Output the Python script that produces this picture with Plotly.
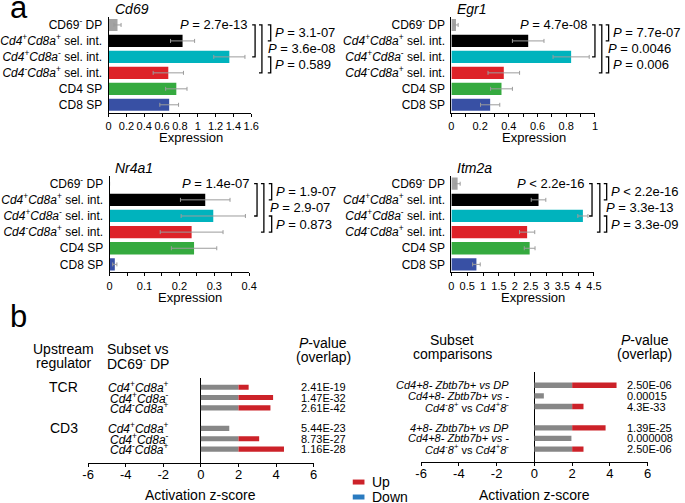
import plotly.graph_objects as go

W, H = 685, 503
FONT = "Liberation Sans, Arial, sans-serif"

# ---------------- data: panel a ----------------
subsets = [
    "CD69<sup>-</sup> DP",
    "<i>Cd4</i><sup>+</sup><i>Cd8a</i><sup>+</sup> sel. int.",
    "<i>Cd4</i><sup>+</sup><i>Cd8a</i><sup>-</sup> sel. int.",
    "<i>Cd4</i><sup>-</sup><i>Cd8a</i><sup>+</sup> sel. int.",
    "CD4 SP",
    "CD8 SP",
]
subset_colors = ["#a3a3a3", "#000000", "#00b3bd", "#dd2228", "#35aa3f", "#3850a4"]

genes = ["Cd69", "Egr1", "Nr4a1", "Itm2a"]

cd69_expr = [0.10, 0.83, 1.355, 0.67, 0.76, 0.68]
cd69_err = [0.04, 0.135, 0.175, 0.17, 0.12, 0.105]
egr1_expr = [0.032, 0.535, 0.834, 0.365, 0.349, 0.27]
egr1_err = [0.015, 0.11, 0.126, 0.11, 0.076, 0.067]
nr4a1_expr = [0.0, 0.274, 0.297, 0.235, 0.242, 0.015]
nr4a1_err = [0.0, 0.071, 0.092, 0.09, 0.065, 0.006]
itm2a_expr = [0.196, 2.75, 4.15, 2.39, 2.47, 0.79]
itm2a_err = [0.08, 0.23, 0.16, 0.24, 0.17, 0.12]

expr_ranges = [1.6, 1.0, 0.4, 4.5]
expr_dticks = [0.2, 0.2, 0.1, 0.5]

# P-value comparisons (pairs of subset indices)
p_pairs = [(0, 2), (0, 3), (0, 1), (2, 3)]
cd69_p = ["= 2.7e-13", "= 3.6e-08", "= 3.1-07", "= 0.589"]
egr1_p = ["= 4.7e-08", "= 0.0046", "= 7.7e-07", "= 0.006"]
nr4a1_p = ["= 1.4e-07", "= 2.9-07", "= 1.9-07", "= 0.873"]
itm2a_p = ["< 2.2e-16", "= 3.3e-13", "< 2.2e-16", "= 3.3e-09"]

# ---------------- data: panel b ----------------
regulators = ["TCR", "CD3"]
b_rows = [0, 1, 2, 4, 5, 6]
left_labels = [
    "<i>Cd4</i><sup>+</sup><i>Cd8a</i><sup>+</sup>",
    "<i>Cd4</i><sup>+</sup><i>Cd8a</i><sup>-</sup>",
    "<i>Cd4</i><sup>-</sup><i>Cd8a</i><sup>+</sup>",
    "<i>Cd4</i><sup>+</sup><i>Cd8a</i><sup>+</sup>",
    "<i>Cd4</i><sup>+</sup><i>Cd8a</i><sup>-</sup>",
    "<i>Cd4</i><sup>-</sup><i>Cd8a</i><sup>+</sup>",
]
left_z = [2.54, 3.84, 3.70, 1.51, 3.10, 4.42]
left_p = ["2.41E-19", "1.47E-32", "2.61E-42", "5.44E-23", "8.73E-27", "1.16E-28"]

right_labels = [
    "<i>Cd4+8- Zbtb7b+ vs DP</i>",
    "<i>Cd4+8- Zbtb7b+ vs -</i>",
    "<i>Cd4</i><sup>-</sup><i>8</i><sup>+</sup> vs <i>Cd4</i><sup>+</sup><i>8</i><sup>-</sup>",
    "<i>4+8- Zbtb7b+ vs DP</i>",
    "<i>Cd4+8- Zbtb7b+ vs -</i>",
    "<i>Cd4</i><sup>-</sup><i>8</i><sup>+</sup> vs <i>Cd4</i><sup>+</sup><i>8</i><sup>-</sup>",
]
right_z = [4.35, 0.50, 2.60, 3.77, 1.96, 2.60]
right_p = ["2.50E-06", "0.00015", "4.3E-33", "1.39E-25", "0.000008", "2.50E-06"]

z_threshold = 2.0
z_ticks = [-6, -4, -2, 0, 2, 4, 6]
z_ticktext = ["-6", "-4", "-2", "0", "2", "4", "6"]

GRAY_B = "#878787"
RED_B = "#cc2229"
BLUE_B = "#2a7bc0"


def fx(p):
    return p / W


def fy(p):
    return 1 - p / H


fig = go.Figure()
annotations = []
shapes = []

# ---------------- panel a layout (pixel boxes) ----------------
a_boxes = [  # x0, x1, ytop, ybottom
    (103, 249, 16, 112),
    (454, 601, 16, 112),
    (104, 247, 175, 272),
    (454, 600, 175, 272),
]
bracket_x = [
    [253, 260, 269, 269],
    [601, 608, 615, 615],
    [255, 262, 270, 270],
    [598, 606, 613, 613],
]
expr_all = [cd69_expr, egr1_expr, nr4a1_expr, itm2a_expr]
err_all = [cd69_err, egr1_err, nr4a1_err, itm2a_err]
p_all = [cd69_p, egr1_p, nr4a1_p, itm2a_p]
minor_d = [None, 0.1, 0.05, None]

layout_axes = {}
for i in range(4):
    n = i + 1
    xa = "x" if n == 1 else f"x{n}"
    ya = "y" if n == 1 else f"y{n}"
    x0, x1, yt, yb = a_boxes[i]
    fig.add_trace(go.Bar(
        x=expr_all[i], y=list(range(len(subsets))), orientation="h",
        marker=dict(color=subset_colors, line=dict(width=0)), width=0.76,
        error_x=dict(type="data", array=err_all[i], color="#9c9c9c", thickness=1, width=2),
        xaxis=xa, yaxis=ya, showlegend=False, hoverinfo="skip",
    ))
    xkey = "xaxis" if n == 1 else f"xaxis{n}"
    ykey = "yaxis" if n == 1 else f"yaxis{n}"
    d = expr_dticks[i]
    nt = int(round(expr_ranges[i] / d))
    tv = [round(k * d, 3) for k in range(nt + 1)]
    xdict = dict(
        domain=[fx(x0), fx(x1)], anchor=ya, range=[0, expr_ranges[i]],
        tickvals=tv, ticktext=[("%g" % v) for v in tv],
        showline=True, linecolor="black", linewidth=1, ticks="outside", ticklen=3,
        tickcolor="black", tickwidth=1, tickfont=dict(size=11, color="black"),
        showgrid=False, zeroline=False, fixedrange=True,
    )
    if minor_d[i]:
        xdict["minor"] = dict(dtick=minor_d[i], ticks="outside", ticklen=3, tickcolor="black", showgrid=False)
    layout_axes[xkey] = xdict
    layout_axes[ykey] = dict(
        domain=[fy(yb), fy(yt)], anchor=xa, range=[5.5, -0.5],
        tickvals=list(range(len(subsets))), ticktext=subsets,
        showline=True, linecolor="black", linewidth=1, ticks="",
        ticklabelstandoff=3, tickfont=dict(size=12, color="black"),
        showgrid=False, zeroline=False, fixedrange=True,
    )
    annotations.append(dict(
        text=f"<i>{genes[i]}</i>", x=fx(x0 + 4), y=fy(yt - 8), xref="paper", yref="paper",
        xanchor="left", yanchor="middle", showarrow=False, font=dict(size=14, color="black"),
    ))
    annotations.append(dict(
        text="Expression", x=fx(x0 + 0.575 * (x1 - x0)), y=fy(yb + 25), xref="paper", yref="paper",
        xanchor="center", yanchor="middle", showarrow=False, font=dict(size=13, color="black"),
    ))
    bx = bracket_x[i]
    for k, (a, b) in enumerate(p_pairs):
        xp = fx(bx[k])
        tk = 3 / W
        shapes.append(dict(
            type="path", xref="paper", yref=ya,
            path=f"M {xp - tk},{a} L {xp},{a} L {xp},{b} L {xp - tk},{b}",
            line=dict(color="black", width=1.3),
        ))
    pv = p_all[i]
    annotations.append(dict(
        text=f"<i>P</i> {pv[0]}", x=fx(bx[0] - 5), y=p_pairs[0][0], xref="paper", yref=ya,
        xanchor="right", yanchor="middle", showarrow=False, font=dict(size=13, color="black"),
    ))
    annotations.append(dict(
        text=f"<i>P</i> {pv[1]}", x=fx(bx[1] + 4), y=(p_pairs[1][0] + p_pairs[1][1]) / 2,
        xref="paper", yref=ya, xanchor="left", yanchor="middle", showarrow=False,
        font=dict(size=13, color="black"),
    ))
    for k in (2, 3):
        annotations.append(dict(
            text=f"<i>P</i> {pv[k]}", x=fx(bx[k] + 2), y=(p_pairs[k][0] + p_pairs[k][1]) / 2,
            xref="paper", yref=ya, xanchor="left", yanchor="middle", showarrow=False,
            font=dict(size=13, color="black"),
        ))

# ---------------- panel b ----------------
b_boxes = [  # x0, x1, ytop, ybottom, yrange
    (82, 313, 378, 463, [7.36, -0.87]),
    (423, 655, 372, 462, [7.22, -1.22]),
]
z_sets = [left_z, right_z]
for j in range(2):
    n = 5 + j
    xa, ya = f"x{n}", f"y{n}"
    x0, x1, yt, yb, yr = b_boxes[j]
    zs = z_sets[j]
    gray_part = [min(z, z_threshold) for z in zs]
    up_rows = [r for r, z in zip(b_rows, zs) if z > z_threshold]
    up_part = [z - z_threshold for z in zs if z > z_threshold]
    fig.add_trace(go.Bar(
        x=gray_part, y=b_rows, orientation="h", width=0.5,
        marker=dict(color=GRAY_B, line=dict(width=0)),
        xaxis=xa, yaxis=ya, showlegend=False, hoverinfo="skip",
    ))
    fig.add_trace(go.Bar(
        x=up_part, y=up_rows, base=[z_threshold] * len(up_part), orientation="h", width=0.5,
        marker=dict(color=RED_B, line=dict(width=0)),
        xaxis=xa, yaxis=ya, showlegend=False, hoverinfo="skip",
    ))
    layout_axes[f"xaxis{n}"] = dict(
        domain=[fx(x0), fx(x1)], anchor=ya, range=[-6, 6],
        tickvals=z_ticks, ticktext=z_ticktext,
        showline=True, linecolor="black", linewidth=1, ticks="outside", ticklen=3,
        tickcolor="black", tickfont=dict(size=13, color="black"), ticklabelstandoff=-4,
        zeroline=True, zerolinecolor="black", zerolinewidth=1,
        showgrid=False, fixedrange=True,
    )
    layout_axes[f"yaxis{n}"] = dict(
        domain=[fy(yb), fy(yt)], anchor=xa, range=yr,
        showticklabels=False, showline=False, ticks="", showgrid=False,
        zeroline=False, fixedrange=True,
    )
    annotations.append(dict(
        text="Activation z-score", x=fx((x0 + x1) / 2), y=fy(495), xref="paper", yref="paper",
        xanchor="center", yanchor="middle", showarrow=False, font=dict(size=14, color="black"),
    ))

for r, lab, p in zip(b_rows, left_labels, left_p):
    annotations.append(dict(text=lab, x=fx(167), y=r, xref="paper", yref="y5",
                            xanchor="right", yanchor="middle", showarrow=False,
                            font=dict(size=12, color="black")))
    annotations.append(dict(text=p, x=fx(323), y=r, xref="paper", yref="y5",
                            xanchor="center", yanchor="middle", showarrow=False,
                            font=dict(size=11, color="black")))
for r, reg in zip([0, 4], regulators):
    annotations.append(dict(text=reg, x=fx(57), y=r, xref="paper", yref="y5",
                            xanchor="center", yanchor="middle", showarrow=False,
                            font=dict(size=14, color="black")))
for r, lab, p in zip(b_rows, right_labels, right_p):
    annotations.append(dict(text=lab, x=fx(515), y=r, xref="paper", yref="y6",
                            xanchor="right", yanchor="middle", showarrow=False,
                            font=dict(size=11, color="black")))
    annotations.append(dict(text=p, x=fx(632), y=r, xref="paper", yref="y6",
                            xanchor="left", yanchor="middle", showarrow=False,
                            font=dict(size=11, color="black")))

headers = [
    ("Upstream", 57, 349), ("regulator", 57, 363),
    ("Subset vs", 133, 349), ("DC69<sup>-</sup> DP", 133, 363),
    ("<i>P</i>-value", 323, 343), ("(overlap)", 323, 357),
    ("Subset", 455, 340), ("comparisons", 455, 354),
    ("<i>P</i>-value", 652, 340), ("(overlap)", 652, 354),
]
for t, x, y in headers:
    annotations.append(dict(text=t, x=fx(x), y=fy(y), xref="paper", yref="paper",
                            xanchor="center", yanchor="middle", showarrow=False,
                            font=dict(size=14, color="black")))

annotations.append(dict(text="a", x=0, y=fy(7), xref="paper", yref="paper", xanchor="left",
                        yanchor="middle", showarrow=False, font=dict(size=31, color="black")))
annotations.append(dict(text="b", x=0, y=fy(316), xref="paper", yref="paper", xanchor="left",
                        yanchor="middle", showarrow=False, font=dict(size=31, color="black")))

legend_items = [("Up", RED_B, 482), ("Down", BLUE_B, 497)]
for name, col, yc in legend_items:
    shapes.append(dict(type="rect", xref="paper", yref="paper",
                       x0=fx(353), x1=fx(365), y0=fy(yc + 2.5), y1=fy(yc - 2.5),
                       fillcolor=col, line=dict(width=0)))
    annotations.append(dict(text=name, x=fx(371), y=fy(yc), xref="paper", yref="paper",
                            xanchor="left", yanchor="middle", showarrow=False,
                            font=dict(size=14, color="black")))

fig.update_layout(
    width=W, height=H, autosize=False,
    margin=dict(l=0, r=0, t=0, b=0),
    paper_bgcolor="white", plot_bgcolor="white",
    font=dict(family=FONT, color="black"),
    barmode="overlay", showlegend=False,
    annotations=annotations, shapes=shapes,
    **layout_axes,
)

fig.write_html("out.html", config={"displayModeBar": False},
               post_script="document.body.style.margin='0';")
